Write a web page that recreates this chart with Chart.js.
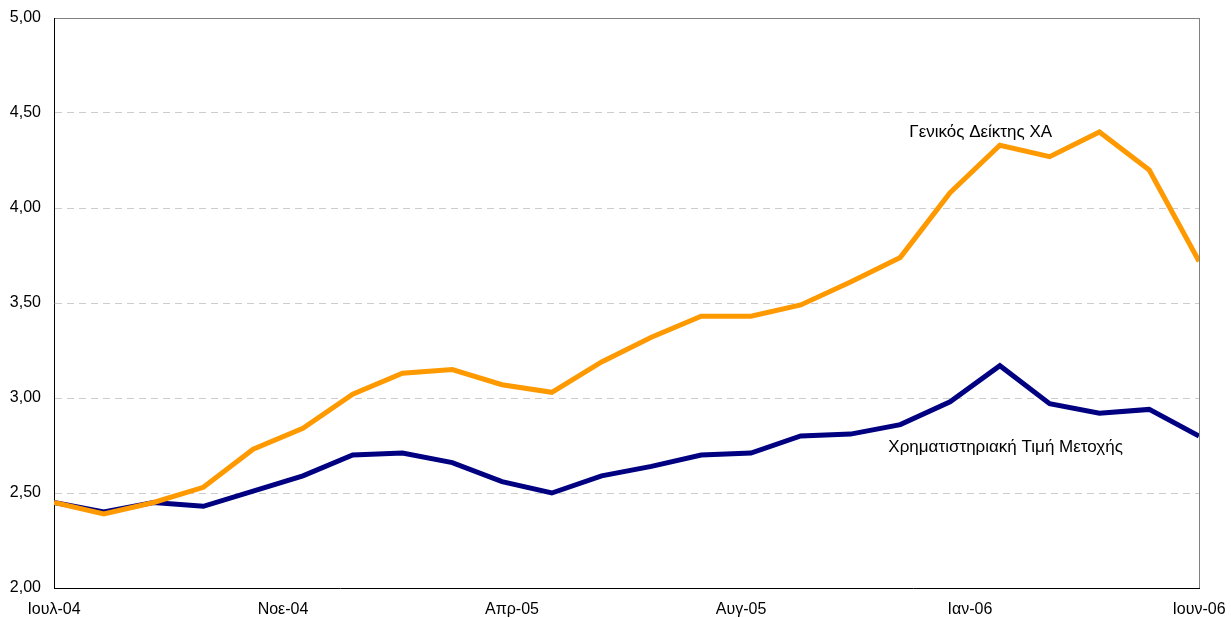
<!DOCTYPE html>
<html>
<head>
<meta charset="utf-8">
<script src="https://cdn.jsdelivr.net/npm/chart.js@4/dist/chart.umd.min.js"></script>
<style>
  html, body { margin: 0; padding: 0; background: #fff; }
  #wrap { width: 1231px; height: 618px; }
</style>
</head>
<body>
<div id="wrap"><canvas id="chart" width="1231" height="618"></canvas></div>
<script>
// Months, Ιουλ-04 .. Ιουν-06
const months = ['Ιουλ-04', 'Αυγ-04', 'Σεπ-04', 'Οκτ-04', 'Νοε-04', 'Δεκ-04',
    'Ιαν-05', 'Φεβ-05', 'Μαρ-05', 'Απρ-05', 'Μαϊ-05', 'Ιουν-05',
    'Ιουλ-05', 'Αυγ-05', 'Σεπ-05', 'Οκτ-05', 'Νοε-05', 'Δεκ-05',
    'Ιαν-06', 'Φεβ-06', 'Μαρ-06', 'Απρ-06', 'Μαϊ-06', 'Ιουν-06'];

const generalIndex = [2.45, 2.39, 2.45, 2.53, 2.73, 2.84, 3.02, 3.13, 3.15, 3.07, 3.03, 3.19,
    3.32, 3.43, 3.43, 3.49, 3.61, 3.74, 4.08, 4.33, 4.27, 4.40, 4.20, 3.72];

const sharePrice = [2.45, 2.40, 2.45, 2.43, 2.51, 2.59, 2.70, 2.71, 2.66, 2.56, 2.50, 2.59,
    2.64, 2.70, 2.71, 2.80, 2.81, 2.86, 2.98, 3.17, 2.97, 2.92, 2.94, 2.80];

// Excel spreads 6 labels evenly over the 24 months
const xTickLabels = ['Ιουλ-04', 'Νοε-04', 'Απρ-05', 'Αυγ-05', 'Ιαν-06', 'Ιουν-06'];
const yTicks = [2.0, 2.5, 3.0, 3.5, 4.0, 4.5, 5.0];

const FONT = "'Liberation Sans', Arial, sans-serif";

const toPoints = arr => arr.map((v, i) => ({ x: i, y: v }));

// series labels written next to the lines
const seriesLabels = [
    { text: 'Γενικός Δείκτης ΧΑ', x: 17.18, y: 4.40 },
    { text: 'Χρηματιστηριακή Τιμή Μετοχής', x: 16.76, y: 2.74 }
];

const framePlugin = {
    id: 'frame',
    beforeDatasetsDraw(chart) {
        const { ctx, chartArea } = chart;
        ctx.save();
        ctx.strokeStyle = '#808080';
        ctx.lineWidth = 1;
        ctx.beginPath();
        ctx.moveTo(chartArea.right + 0.5, chartArea.top);
        ctx.lineTo(chartArea.right + 0.5, chartArea.bottom);
        ctx.stroke();
        ctx.restore();
    },
    afterDatasetsDraw(chart) {
        const { ctx, scales } = chart;
        ctx.save();
        ctx.fillStyle = '#000';
        ctx.font = '17px ' + FONT;
        ctx.textBaseline = 'middle';
        ctx.textAlign = 'left';
        seriesLabels.forEach(l => {
            ctx.fillText(l.text, scales.x.getPixelForValue(l.x), scales.y.getPixelForValue(l.y));
        });
        ctx.restore();
    }
};

new Chart(document.getElementById('chart'), {
    type: 'line',
    data: {
        datasets: [{
            label: 'Γενικός Δείκτης ΧΑ',
            data: toPoints(generalIndex),
            borderColor: '#FF9900',
            borderWidth: 5,
            pointRadius: 0,
            tension: 0
        }, {
            label: 'Χρηματιστηριακή Τιμή Μετοχής',
            data: toPoints(sharePrice),
            borderColor: '#000080',
            borderWidth: 5,
            pointRadius: 0,
            tension: 0
        }]
    },
    options: {
        responsive: false,
        animation: false,
        layout: { padding: { top: 18, right: 32, left: 0, bottom: 0 } },
        plugins: {
            legend: { display: false },
            tooltip: { enabled: false }
        },
        scales: {
            x: {
                type: 'linear',
                min: 0,
                max: months.length - 1,
                afterBuildTicks: scale => {
                    const step = (months.length - 1) / (xTickLabels.length - 1);
                    scale.ticks = xTickLabels.map((_, i) => ({ value: i * step }));
                },
                afterFit: scale => {
                    scale.height = 30;
                    scale.paddingLeft = 0;
                    scale.paddingRight = 0;
                },
                grid: { display: false, drawTicks: false },
                border: { display: true, color: '#000', width: 1 },
                ticks: {
                    autoSkip: false,
                    maxRotation: 0,
                    padding: 12,
                    color: '#000',
                    font: { family: FONT, size: 16 },
                    callback: (value, index) => xTickLabels[index]
                }
            },
            y: {
                min: 2,
                max: 5,
                afterBuildTicks: scale => {
                    scale.ticks = yTicks.map(v => ({ value: v }));
                },
                afterFit: scale => {
                    scale.width = 54;
                    scale.paddingTop = 0;
                    scale.paddingBottom = 0;
                },
                grid: {
                    drawTicks: false,
                    color: ctx => {
                        const v = ctx.tick && ctx.tick.value;
                        if (v === 5) return '#808080';
                        if (v === 2) return 'rgba(0,0,0,0)';
                        return '#cccccc';
                    }
                },
                border: {
                    display: true,
                    color: '#000',
                    width: 1,
                    dash: ctx => (ctx.tick && ctx.tick.value === 5) ? [] : [7, 5]
                },
                ticks: {
                    padding: 13,
                    color: '#000',
                    font: { family: FONT, size: 16 },
                    callback: value => value.toFixed(2).replace('.', ',')
                }
            }
        }
    },
    plugins: [framePlugin]
});
</script>
</body>
</html>
